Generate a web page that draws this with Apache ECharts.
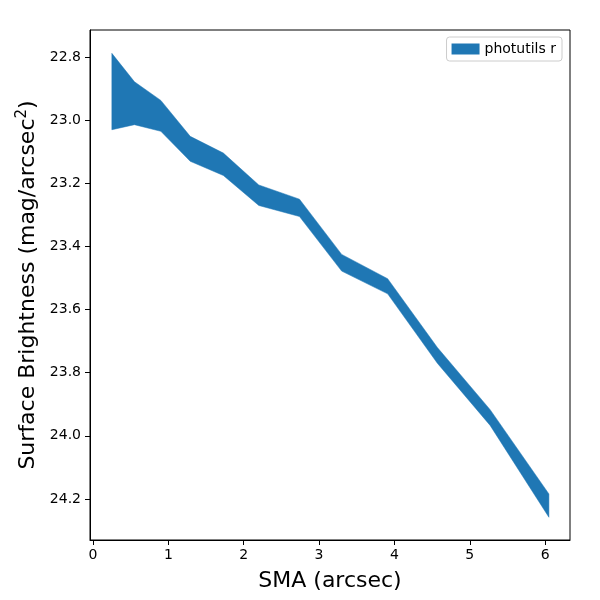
<!DOCTYPE html>
<html>
<head>
<meta charset="utf-8">
<script src="https://cdn.jsdelivr.net/npm/echarts@6/dist/echarts.min.js"></script>
<style>
  html, body { margin: 0; padding: 0; background: #fff; }
  #chart { width: 600px; height: 600px; }
</style>
</head>
<body>
<div id="chart"></div>
<script>
// isophote profile, band = upper / lower surface brightness
var sma = [0.25, 0.55, 0.90, 1.29, 1.73, 2.20, 2.74, 3.30, 3.91, 4.57, 5.27, 6.05];
var sbUpper = [22.788, 22.878, 22.937, 23.051, 23.104, 23.205, 23.250, 23.425, 23.502, 23.720, 23.917, 24.184];
var sbLower = [23.030, 23.014, 23.035, 23.130, 23.175, 23.270, 23.305, 23.478, 23.550, 23.770, 23.967, 24.258];

var xTicks = [0, 1, 2, 3, 4, 5, 6];
var yTicks = [22.8, 23.0, 23.2, 23.4, 23.6, 23.8, 24.0, 24.2];

var seriesName = 'photutils r';
var bandColor = '#1f77b4';

var chart = echarts.init(document.getElementById('chart'));

var bandData = [];
for (var i = 0; i < sma.length; i++) {
  bandData.push([sma[i], sbUpper[i], sbLower[i]]);
}

function renderBand(params, api) {
  if (params.dataIndex !== 0) return;
  var pts = [];
  for (var i = 0; i < sma.length; i++) {
    pts.push(api.coord([sma[i], sbUpper[i]]));
  }
  for (var j = sma.length - 1; j >= 0; j--) {
    pts.push(api.coord([sma[j], sbLower[j]]));
  }
  return {
    type: 'polygon',
    shape: { points: pts },
    style: { fill: bandColor, stroke: bandColor, lineWidth: 0.5 }
  };
}

chart.setOption({
  animation: false,
  textStyle: { fontFamily: 'DejaVu Sans' },
  grid: {
    left: 90, right: 30, top: 30, bottom: 60,
    outerBoundsMode: 'none', containLabel: false,
    show: true, borderColor: '#000', borderWidth: 1, backgroundColor: 'transparent'
  },
  legend: {
    data: [{ name: seriesName, icon: 'rect' }],
    right: 38, top: 37,
    itemWidth: 28, itemHeight: 11,
    padding: [5, 6, 5, 5],
    borderColor: '#cccccc', borderWidth: 1, borderRadius: 3,
    backgroundColor: '#fff',
    textStyle: { color: '#000', fontSize: 14, fontFamily: 'DejaVu Sans' }
  },
  xAxis: {
    type: 'value',
    min: -0.04, max: 6.33,
    name: 'SMA (arcsec)',
    nameLocation: 'middle', nameGap: 30,
    nameTextStyle: { color: '#000', fontSize: 22, fontFamily: 'DejaVu Sans' },
    axisLine: { show: true, onZero: false, lineStyle: { color: '#000', width: 1 } },
    axisTick: { show: true, inside: false, length: 5, customValues: xTicks, lineStyle: { color: '#000' } },
    axisLabel: { color: '#000', fontSize: 14, margin: 8, customValues: xTicks, formatter: function (v) { return v.toFixed(0); } },
    splitLine: { show: false }
  },
  yAxis: {
    type: 'value',
    inverse: true,
    min: 22.714, max: 24.33,
    name: 'Surface Brightness (mag/arcsec{sup|2})',
    nameLocation: 'middle', nameGap: 47, nameRotate: 90,
    nameTextStyle: {
      color: '#000', fontSize: 22, fontFamily: 'DejaVu Sans',
      rich: { sup: { fontSize: 15, verticalAlign: 'top', padding: [0, 0, 12, 0], color: '#000', fontFamily: 'DejaVu Sans' } }
    },
    axisLine: { show: true, onZero: false, lineStyle: { color: '#000', width: 1 } },
    axisTick: { show: true, inside: false, length: 5, customValues: yTicks, lineStyle: { color: '#000' } },
    axisLabel: { color: '#000', fontSize: 14, margin: 9, customValues: yTicks, formatter: function (v) { return v.toFixed(1); } },
    splitLine: { show: false }
  },
  series: [
    {
      name: seriesName,
      type: 'custom',
      renderItem: renderBand,
      itemStyle: { color: bandColor },
      encode: { x: 0, y: [1, 2] },
      clip: true,
      data: bandData
    }
  ]
});
</script>
</body>
</html>
